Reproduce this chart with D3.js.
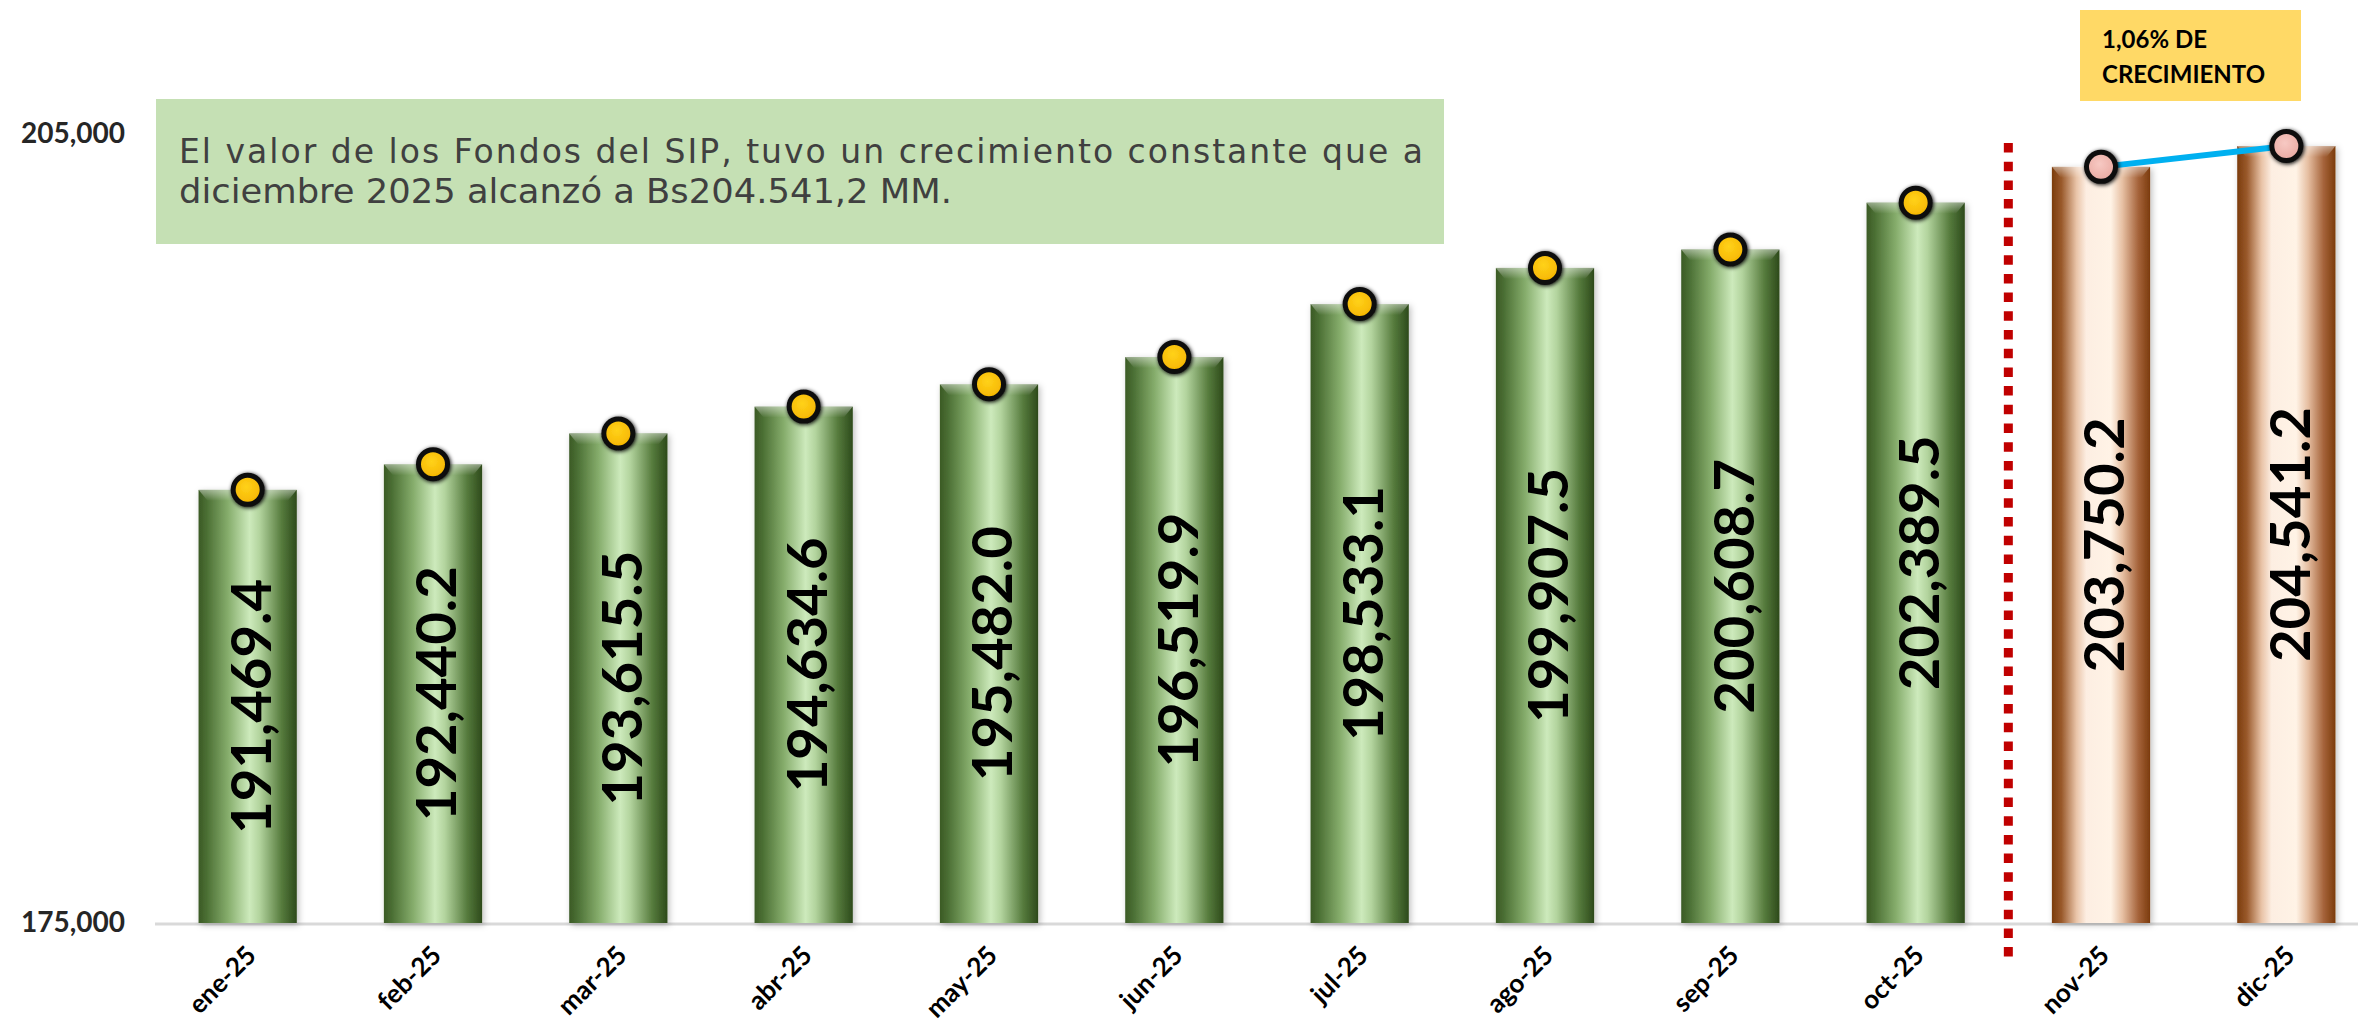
<!DOCTYPE html>
<html>
<head>
<meta charset="utf-8">
<script src="https://cdn.jsdelivr.net/npm/d3@7"></script>
<style>
  html, body { margin: 0; padding: 0; background: #ffffff; }
  svg { display: block; }
</style>
</head>
<body>
<svg id="chart" width="2362" height="1026"></svg>
<script>
// ---------------- DATA ----------------
const categories = ["ene-25","feb-25","mar-25","abr-25","may-25","jun-25","jul-25","ago-25","sep-25","oct-25","nov-25","dic-25"];
const values = [191469.4, 192440.2, 193615.5, 194634.6, 195482.0, 196519.9, 198533.1, 199907.5, 200608.7, 202389.5, 203750.2, 204541.2];
const highlightCategories = ["nov-25","dic-25"];
const yTickValues = [175000, 205000];
const noteLines = ["El valor de los Fondos del SIP, tuvo un crecimiento constante que a",
                   "diciembre 2025 alcanzó a Bs204.541,2 MM."];
const growthLines = ["1,06% DE", "CRECIMIENTO"];

// ---------------- SETUP ----------------
const svg = d3.select("#chart");
const plotLeft = 155, plotRight = 2379, baseY = 923, topY = 134;

const x = d3.scaleBand().domain(categories).range([plotLeft, plotRight])
  .paddingInner(0.47).paddingOuter(0.235);
const y = d3.scaleLinear().domain([175000, 205000]).range([baseY, topY]);

const data = categories.map((c, i) => ({cat: c, value: values[i], hi: highlightCategories.includes(c)}));

// ---------------- DEFS ----------------
const defs = svg.append("defs");
const gGreen = defs.append("linearGradient").attr("id", "gGreen").attr("x1", "0").attr("x2", "1").attr("y1", "0").attr("y2", "0");
[[0, "#3b5a25"], [0.08, "#4a6e33"], [0.3, "#86ad6c"], [0.52, "#cdeabc"], [0.62, "#b3d49e"], [0.85, "#557a3c"], [1, "#2d4a1b"]]
  .forEach(([o, c]) => gGreen.append("stop").attr("offset", o).attr("stop-color", c));
const gCopper = defs.append("linearGradient").attr("id", "gCopper").attr("x1", "0").attr("x2", "1").attr("y1", "0").attr("y2", "0");
[[0, "#7b3b0c"], [0.1, "#9a5a2c"], [0.25, "#e9c4a8"], [0.35, "#fdeee2"], [0.6, "#fff3e6"], [0.72, "#e6bfa2"], [0.88, "#a5633a"], [1, "#7b3b0c"]]
  .forEach(([o, c]) => gCopper.append("stop").attr("offset", o).attr("stop-color", c));
const gBevel = defs.append("linearGradient").attr("id", "gBevel").attr("x1", "0").attr("x2", "0").attr("y1", "0").attr("y2", "1");
gBevel.append("stop").attr("offset", 0).attr("stop-color", "#ffffff").attr("stop-opacity", 0.45);
gBevel.append("stop").attr("offset", 1).attr("stop-color", "#ffffff").attr("stop-opacity", 0);
const gYellow = defs.append("radialGradient").attr("id", "gYellow").attr("cx", "0.45").attr("cy", "0.4").attr("r", "0.6");
gYellow.append("stop").attr("offset", 0).attr("stop-color", "#ffd21a");
gYellow.append("stop").attr("offset", 1).attr("stop-color", "#f5b400");
const gPink = defs.append("radialGradient").attr("id", "gPink").attr("cx", "0.45").attr("cy", "0.4").attr("r", "0.6");
gPink.append("stop").attr("offset", 0).attr("stop-color", "#f7c9c3");
gPink.append("stop").attr("offset", 1).attr("stop-color", "#e9a9a1");
const shadow = defs.append("filter").attr("id", "shadow").attr("x", "-20%").attr("y", "-20%").attr("width", "140%").attr("height", "140%");
shadow.append("feDropShadow").attr("dx", 2).attr("dy", 2).attr("stdDeviation", 3).attr("flood-color", "#000").attr("flood-opacity", 0.25);
const glow = defs.append("filter").attr("id", "glow").attr("x", "-50%").attr("y", "-50%").attr("width", "200%").attr("height", "200%");
glow.append("feGaussianBlur").attr("in", "SourceAlpha").attr("stdDeviation", 2).attr("result", "b");
glow.append("feOffset").attr("in", "b").attr("dx", 1).attr("dy", 1).attr("result", "o");
const fm = glow.append("feMerge");
fm.append("feMergeNode").attr("in", "o");
fm.append("feMergeNode").attr("in", "SourceGraphic");

// ---------------- NOTE BOX ----------------
svg.append("rect").attr("x", 156).attr("y", 99).attr("width", 1288).attr("height", 145).attr("fill", "#c5e0b4");
const noteWidths = [1244, 773];
const noteAdjust = ["spacing", "spacingAndGlyphs"];
noteLines.forEach((t, i) => {
  svg.append("text").attr("x", 179).attr("y", 163 + i * 40)
    .attr("font-family", "'DejaVu Sans', Lato, sans-serif").attr("font-size", 33)
    .attr("fill", "#404040")
    .attr("textLength", noteWidths[i]).attr("lengthAdjust", noteAdjust[i])
    .text(t);
});

// ---------------- AXIS LINE ----------------
svg.append("line").attr("x1", plotLeft).attr("x2", 2358).attr("y1", baseY + 1).attr("y2", baseY + 1)
  .attr("stroke", "#d9d9d9").attr("stroke-width", 3);

// ---------------- BARS ----------------
const bw = x.bandwidth();
const bars = svg.append("g");
bars.selectAll("rect.bar").data(data).join("rect").attr("class", "bar")
  .attr("x", d => x(d.cat)).attr("y", d => y(d.value))
  .attr("width", bw).attr("height", d => baseY - y(d.value))
  .attr("fill", d => d.hi ? "url(#gCopper)" : "url(#gGreen)")
  .attr("filter", "url(#shadow)");
bars.selectAll("path.bevel").data(data).join("path").attr("class", "bevel")
  .attr("d", d => {
    const x0 = x(d.cat), y0 = y(d.value);
    return `M${x0},${y0}L${x0 + bw},${y0}L${x0 + bw - 9},${y0 + 11}L${x0 + 9},${y0 + 11}Z`;
  })
  .attr("fill", "url(#gBevel)");

// ---------------- VALUE LABELS ----------------
const fmt = d3.format(",.1f");
svg.append("g").selectAll("text").data(data).join("text")
  .attr("transform", d => `translate(${x(d.cat) + bw / 2 + 3},${(y(d.value) + baseY) / 2}) rotate(-90)`)
  .attr("text-anchor", "middle").attr("dy", "0.36em")
  .attr("font-family", "Lato, 'Liberation Sans', sans-serif").attr("font-weight", 700)
  .attr("font-size", 56).attr("fill", "#000")
  .attr("textLength", 255).attr("lengthAdjust", "spacingAndGlyphs")
  .text(d => fmt(d.value));

// ---------------- SEPARATOR ----------------
const iOct = categories.indexOf("oct-25"), iNov = categories.indexOf("nov-25");
const sepX = (x(categories[iOct]) + x(categories[iNov]) + bw) / 2;
svg.append("line").attr("x1", sepX).attr("x2", sepX).attr("y1", 143).attr("y2", 958)
  .attr("stroke", "#c00000").attr("stroke-width", 9).attr("stroke-dasharray", "9.5,9.2");

// ---------------- LINE (nov-dic) ----------------
const hiData = data.filter(d => d.hi);
svg.append("path").datum(hiData)
  .attr("d", d3.line().x(d => x(d.cat) + bw / 2).y(d => y(d.value)))
  .attr("fill", "none").attr("stroke", "#00b0f0").attr("stroke-width", 6);

// ---------------- DOTS ----------------
svg.append("g").selectAll("circle").data(data).join("circle")
  .attr("cx", d => x(d.cat) + bw / 2).attr("cy", d => y(d.value))
  .attr("r", 14.5)
  .attr("fill", d => d.hi ? "url(#gPink)" : "url(#gYellow)")
  .attr("stroke", "#111").attr("stroke-width", 5)
  .attr("filter", "url(#glow)");

// ---------------- Y AXIS ----------------
const yAxis = svg.append("g").attr("transform", `translate(${plotLeft},0)`)
  .call(d3.axisLeft(y).tickValues(yTickValues).tickSize(0).tickPadding(30).tickFormat(d3.format(",")));
yAxis.select(".domain").remove();
yAxis.selectAll("text").attr("font-family", "Lato, sans-serif").attr("font-weight", 700)
  .attr("font-size", 28).attr("fill", "#262626");

// ---------------- X AXIS ----------------
const xAxis = svg.append("g").attr("transform", `translate(0,${baseY})`)
  .call(d3.axisBottom(x).tickSize(0));
xAxis.select(".domain").remove();
xAxis.selectAll("text")
  .attr("font-family", "Lato, sans-serif").attr("font-weight", 700).attr("font-size", 26).attr("fill", "#000")
  .attr("text-anchor", "end").attr("dy", null).attr("y", 0)
  .attr("transform", "translate(10,34) rotate(-45)");

// ---------------- GROWTH BOX ----------------
svg.append("rect").attr("x", 2080).attr("y", 10).attr("width", 221).attr("height", 91).attr("fill", "#ffd966");
growthLines.forEach((t, i) => {
  svg.append("text").attr("x", 2102).attr("y", 48 + i * 35)
    .attr("font-family", "Lato, sans-serif").attr("font-weight", 700).attr("font-size", 24)
    .attr("fill", "#000").text(t);
});
</script>
</body>
</html>
